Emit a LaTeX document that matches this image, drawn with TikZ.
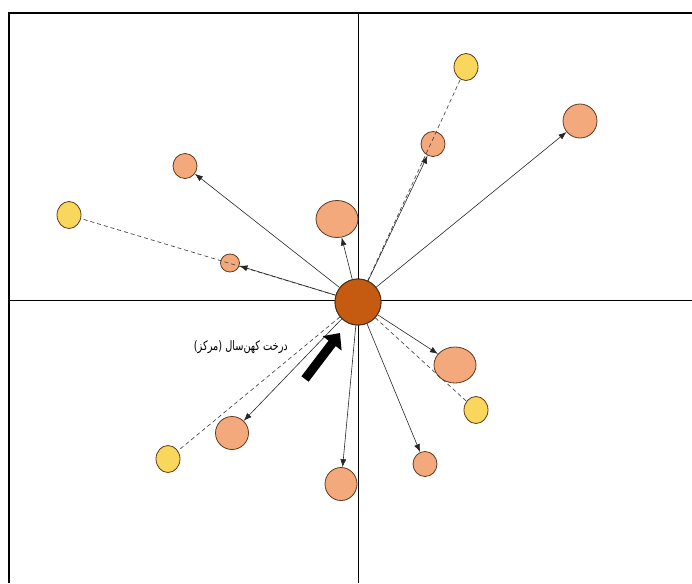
\documentclass[tikz,border=0pt]{standalone}
\usepackage{fontspec}
\newfontfamily\arabicfont[Script=Arabic]{DejaVu Sans}
\TeXXeTstate=1
\usetikzlibrary{arrows.meta,shapes.geometric}
\definecolor{salmon}{HTML}{F4A97C}
\definecolor{yel}{HTML}{F9D65C}
\definecolor{core}{HTML}{C55A11}
\definecolor{rim}{HTML}{5E3A1E}
\begin{document}
\begin{tikzpicture}[x=1pt,y=-1pt,
  frame/.style={line width=1.3pt,black},
  axis/.style={line width=0.7pt,black},
  orb/.style={ellipse,draw=rim,line width=0.8pt,fill=salmon,inner sep=0pt},
  gold/.style={ellipse,draw=rim,line width=0.8pt,fill=yel,inner sep=0pt,minimum width=24pt,minimum height=27pt},
  link/.style={line width=0.6pt,black!85,-{Latex[length=8pt,width=6pt]}},
  dashlink/.style={line width=0.7pt,black!70,dashed,dash pattern=on 4pt off 3pt}]
\useasboundingbox (0,0) rectangle (692,583);
% frame and axes
\coordinate (fl) at (9,583);
\coordinate (ftl) at (9,13);
\coordinate (ftr) at (692,13);
\draw[frame] (fl) -- (ftl) -- (ftr);
\coordinate (ha) at (9,300);
\coordinate (hb) at (692,300);
\coordinate (va) at (358,13);
\coordinate (vb) at (358,583);
\draw[axis] (ha) -- (hb);
\draw[axis] (va) -- (vb);
% nodes
\node[orb,minimum width=34pt,minimum height=34pt] (ur) at (580,121) {};
\node[orb,minimum width=24pt,minimum height=25pt] (us) at (433,144) {};
\node[gold] (y1) at (466,67) {};
\node[orb,minimum width=42pt,minimum height=37pt] (um) at (337,219) {};
\node[orb,minimum width=24pt,minimum height=25pt] (ul) at (185,166) {};
\node[gold] (y2) at (69,215) {};
\node[orb,minimum width=19pt,minimum height=18pt] (ls) at (230,263) {};
\node[orb,minimum width=42pt,minimum height=36pt] (rm) at (455,365) {};
\node[gold] (y3) at (476,410) {};
\node[orb,minimum width=24pt,minimum height=25pt] (rb) at (425,464) {};
\node[orb,minimum width=32pt,minimum height=33pt] (bm) at (341,484) {};
\node[orb,minimum width=33pt,minimum height=33pt] (bl) at (232,433) {};
\node[gold] (y4) at (168,459) {};
\node[circle,draw=rim!80!black,line width=0.9pt,fill=core,minimum size=46pt,inner sep=0pt] (c) at (358,302) {};
% dashed lines
\draw[dashlink] (c) -- (y1);
\draw[dashlink] (c) -- (y2);
\draw[dashlink] (c) -- (y3);
\draw[dashlink] (c) -- (y4);
% arrows
\foreach \t in {ur,us,um,ul,ls,rm,rb,bm,bl}
  \draw[link] (c) -- (\t);
% redraw center on top
\node[circle,draw=rim!80!black,line width=0.9pt,fill=core,minimum size=46pt,inner sep=0pt] at (358,302) {};
% block arrow
\coordinate (ba) at (305,379);
\coordinate (bb) at (340,333);
\draw[line width=9pt,-{Triangle[length=13pt,width=23pt]}] (ba) -- (bb);
% label
\node[anchor=east,inner sep=0pt,font=\arabicfont\fontsize{13}{15}\selectfont] (lab) at (288,347) {\scalebox{0.75}[1]{\beginR درخت کهن‌سال (مرکز)\endR}};
\end{tikzpicture}
\end{document}
